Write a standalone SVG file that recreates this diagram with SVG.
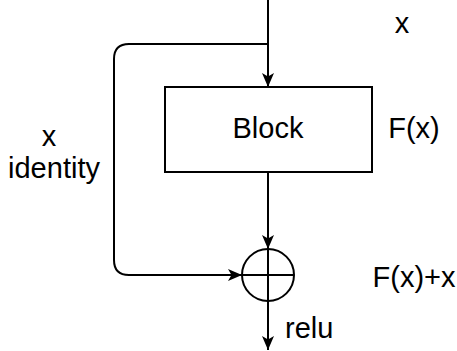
<svg xmlns="http://www.w3.org/2000/svg" width="457" height="351" viewBox="0 0 457 351">
  <style>
    .ln { fill: none; stroke: #000; stroke-width: 2; }
    .box { fill: #fff; stroke: #000; stroke-width: 2; }
    .t { font-family: "Liberation Sans", Arial, sans-serif; font-size: 29px; fill: #000; }
    .c { text-anchor: middle; }
  </style>
  <defs>
    <marker id="arr" markerUnits="userSpaceOnUse" markerWidth="15" markerHeight="13" refX="14" refY="6" orient="auto">
      <path d="M0,0 L14,6 L0,12 L3.5,6 Z" fill="#000"/>
    </marker>
  </defs>
  <g id="connectors">
    <path class="ln" d="M268,0 V87" marker-end="url(#arr)"/>
    <path class="ln" d="M268,44 H129 Q114,44 114,59 V260 Q114,275 129,275 H242" marker-end="url(#arr)"/>
    <path class="ln" d="M268,172 V249" marker-end="url(#arr)"/>
    <path class="ln" d="M268,301 V350" marker-end="url(#arr)"/>
  </g>
  <g id="block">
    <rect class="box" x="165" y="87" width="207" height="85"/>
    <text class="t c" x="268" y="138">Block</text>
  </g>
  <g id="sum">
    <circle class="ln" cx="268" cy="275" r="26"/>
    <path class="ln" d="M268,249 V301 M242,275 H294"/>
  </g>
  <g id="labels">
    <text class="t c" x="402" y="33">x</text>
    <text class="t c" x="414" y="138">F(x)</text>
    <text class="t c" x="49" y="146">x</text>
    <text class="t c" x="54" y="178">identity</text>
    <text class="t c" x="414" y="287">F(x)+x</text>
    <text class="t" x="285" y="338">relu</text>
  </g>
</svg>
